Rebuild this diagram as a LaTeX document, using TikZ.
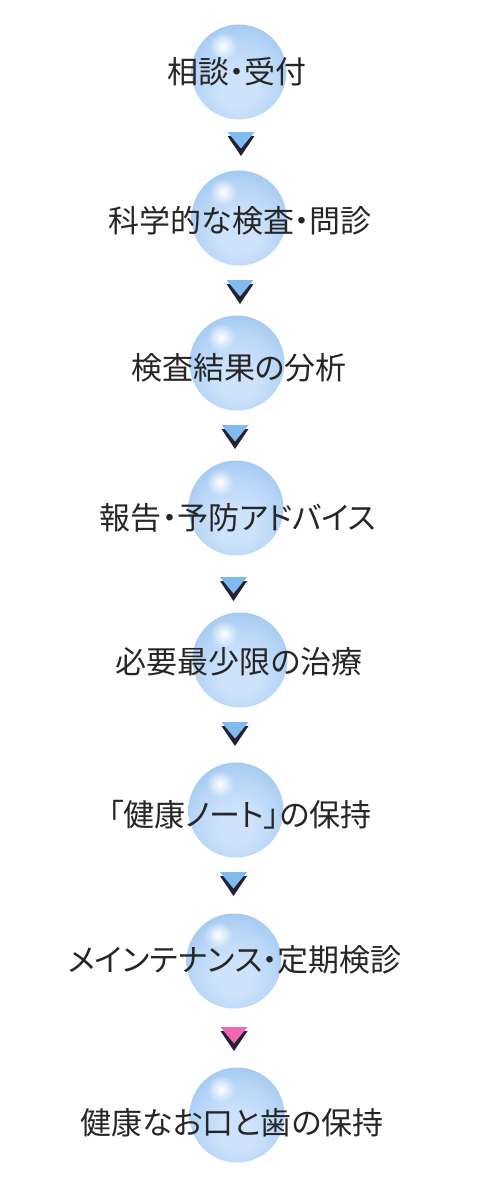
\documentclass[tikz,border=0pt]{standalone}
\usepackage{fontspec}
\newfontfamily\jp[RawFeature=+palt]{Noto Sans CJK JP}
\usetikzlibrary{fadings}
\definecolor{rimblue}{RGB}{156,196,240}
\definecolor{midblue}{RGB}{184,214,247}
\definecolor{innerblue}{RGB}{206,227,251}
\definecolor{arrowblue}{RGB}{128,186,238}
\definecolor{arrowpink}{RGB}{240,104,176}
\definecolor{shadowdark}{RGB}{36,34,50}
\pgfdeclareradialshading{bubbleshade}{\pgfpoint{0bp}{-11bp}}{%
  color(0bp)=(innerblue); color(9bp)=(innerblue); color(22bp)=(midblue);
  color(33bp)=(rimblue); color(37bp)=(rimblue); color(50bp)=(rimblue)}
\tikzfading[name=hlfade, inner color=transparent!0, outer color=transparent!100]
\tikzset{
  bubble/.style={circle, minimum size=95pt, inner sep=0pt, shading=bubbleshade},
  steplabel/.style={font=\jp\fontsize{31}{31}\selectfont, text=black!85, inner sep=0pt},
  highlight/.style={fill=white, path fading=hlfade},
}
\newcommand{\flowarrow}[4]{% name, x, y(top), colour
  \coordinate (#1) at (#2,#3);
  \fill[shadowdark] ([xshift=-13.5pt,yshift=-4pt]#1) -- ([xshift=13.5pt,yshift=-4pt]#1) -- ([yshift=-24pt]#1) -- cycle;
  \fill[#4] ([xshift=-13.5pt]#1) -- ([xshift=13.5pt]#1) -- ([yshift=-16.5pt]#1) -- cycle;
}
\begin{document}
\begin{tikzpicture}[x=1pt,y=-1pt]
\useasboundingbox (0,0) rectangle (480,1191);
\fill[white] (0,0) rectangle (480,1191);
% bubbles
\foreach \n/\bx/\by in {b1/239/72, b2/239/218, b3/237/363, b4/236/508, b5/240/660, b6/236/810, b7/234/961, b8/237/1115}{
  \node[bubble] (\n) at (\bx,\by) {};
  \fill[highlight] ([xshift=-16pt,yshift=26pt]\n.center) circle (14pt);
}
% arrows
\flowarrow{a1}{241}{132}{arrowblue}
\flowarrow{a2}{240}{280}{arrowblue}
\flowarrow{a3}{235}{425}{arrowblue}
\flowarrow{a4}{233.5}{577}{arrowblue}
\flowarrow{a5}{235}{722}{arrowblue}
\flowarrow{a6}{233.5}{872}{arrowblue}
\flowarrow{a7}{234}{1027}{arrowpink}
% labels
\node[steplabel] (t1) at (237,72) {相談・受付};
\node[steplabel] (t2) at (240,221) {科学的な検査・問診};
\node[steplabel] (t3) at (239,368) {検査結果の分析};
\node[steplabel] (t4) at (238,518) {報告・予防アドバイス};
\node[steplabel] (t5) at (239,662) {必要最少限の治療};
\node[steplabel] (t6) at (240,815) {「健康ノート」の保持};
\node[steplabel] (t7) at (235,960) {メインテナンス・定期検診};
\node[steplabel] (t8) at (232,1123) {健康なお口と歯の保持};
\end{tikzpicture}
\end{document}
